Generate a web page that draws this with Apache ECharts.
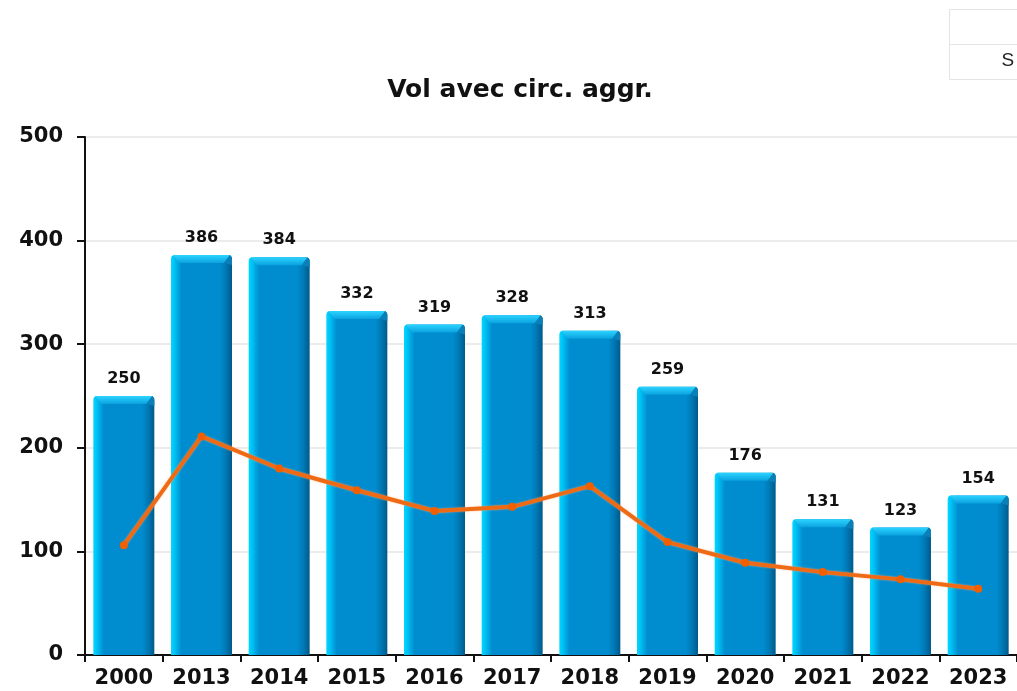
<!DOCTYPE html>
<html>
<head>
<meta charset="utf-8">
<script src="https://cdn.jsdelivr.net/npm/echarts@6/dist/echarts.min.js"></script>
<style>
  html, body { margin: 0; padding: 0; background: #fff; }
  #chart { width: 1017px; height: 691px; }
</style>
</head>
<body>
<div id="chart"></div>
<script>
// --- data ---
const years = ['2000', '2013', '2014', '2015', '2016', '2017', '2018', '2019', '2020', '2021', '2022', '2023'];
const volValues = [250, 386, 384, 332, 319, 328, 313, 259, 176, 131, 123, 154];
const lineValues = [106, 211, 180, 159, 139, 143, 163, 109, 89, 80, 73, 64];

const FONT = 'DejaVu Sans';
const BAR_W = 61;

const chart = echarts.init(document.getElementById('chart'));

const barColor = new echarts.graphic.LinearGradient(0, 0, 1, 0, [
  { offset: 0, color: '#00d8ff' },
  { offset: 0.06, color: '#00c0f4' },
  { offset: 0.17, color: '#008dd0' },
  { offset: 0.8, color: '#008ccf' },
  { offset: 0.9, color: '#0078b4' },
  { offset: 1, color: '#005a8a' }
]);

// top bevel of each bar, drawn on top of the bar body
const renderBevel = (params, api) => {
  const top = api.coord([api.value(0), api.value(1)]);
  const x0 = top[0] - BAR_W / 2;
  const x1 = top[0] + BAR_W / 2;
  const y = top[1];
  const d = 8;
  return {
    type: 'group',
    children: [
      {
        type: 'polygon',
        shape: { points: [[x0 + 2, y], [x1 - 2, y], [x1 - d, y + d], [x0 + d, y + d]] },
        style: {
          fill: new echarts.graphic.LinearGradient(0, 0, 0, 1, [
            { offset: 0, color: '#2cd4ff' },
            { offset: 1, color: '#0aa2e0' }
          ])
        }
      },
      {
        type: 'polygon',
        shape: { points: [[x1 - 2, y], [x1, y + 3], [x1, y + d + 2], [x1 - d, y + d]] },
        style: { fill: '#0a7fb8' }
      }
    ]
  };
};

chart.setOption({
  animation: false,
  backgroundColor: '#fff',
  title: {
    text: 'Vol avec circ. aggr.',
    left: 515,
    top: 73,
    textAlign: 'center',
    textStyle: { fontFamily: FONT, fontSize: 25, fontWeight: 'bold', color: '#111' }
  },
  grid: { left: 85, right: 0, top: 137, bottom: 36, containLabel: false },
  xAxis: {
    type: 'category',
    data: years,
    axisLine: { lineStyle: { color: '#111', width: 2 } },
    axisTick: { show: true, length: 7, lineStyle: { color: '#111', width: 2 } },
    axisLabel: { fontFamily: FONT, fontSize: 21, fontWeight: 'bold', color: '#111', margin: 13 }
  },
  yAxis: {
    type: 'value',
    min: 0,
    max: 500,
    interval: 100,
    axisLine: { show: true, lineStyle: { color: '#111', width: 2 } },
    axisTick: { show: true, length: 8, lineStyle: { color: '#111', width: 2 } },
    axisLabel: { fontFamily: FONT, fontSize: 21, fontWeight: 'bold', color: '#111', margin: 22 },
    splitLine: { lineStyle: { color: '#e6e6e6', width: 1.5 } }
  },
  series: [
    {
      type: 'bar',
      data: volValues,
      barWidth: BAR_W,
      itemStyle: {
        color: barColor,
        borderRadius: [4, 4, 0, 0]
      },
      label: {
        show: true,
        position: 'top',
        distance: 9,
        fontFamily: FONT,
        fontSize: 16,
        fontWeight: 'bold',
        color: '#111'
      }
    },
    {
      type: 'custom',
      data: volValues.map((v, i) => [i, v]),
      renderItem: renderBevel,
      silent: true,
      z: 3
    },
    {
      type: 'line',
      data: lineValues,
      symbol: 'circle',
      symbolSize: 8,
      lineStyle: { color: '#ef6a14', width: 4, shadowColor: 'rgba(255,170,110,0.8)', shadowBlur: 2 },
      itemStyle: { color: '#f05f00' },
      z: 5
    }
  ],
  graphic: [
    {
      type: 'group',
      left: 947,
      top: 9,
      children: [
        { type: 'rect', shape: { x: 0, y: 0, width: 80, height: 70 }, style: { fill: '#fff', stroke: '#e4e4e4', lineWidth: 1 } },
        { type: 'line', shape: { x1: 0, y1: 35, x2: 80, y2: 35 }, style: { stroke: '#e4e4e4', lineWidth: 1 } },
        { type: 'text', style: { x: 52, y: 42, text: 'S', font: '19px Liberation Sans', fill: '#222' } }
      ]
    }
  ]
});
</script>
</body>
</html>
